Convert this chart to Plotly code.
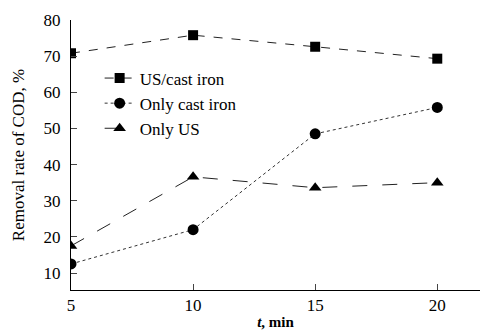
import plotly.graph_objects as go

t_min = [5, 10, 15, 20]
us_cast_iron = [70.8, 75.8, 72.6, 69.3]
only_cast_iron = [12.5, 22.0, 48.5, 55.8]
only_us = [17.5, 36.6, 33.6, 35.0]

x_ticks = [5, 10, 15, 20]
y_ticks = [10, 20, 30, 40, 50, 60, 70, 80]

font_family = "Liberation Serif"

fig = go.Figure()
fig.add_trace(go.Scatter(
    x=t_min, y=us_cast_iron, name="US/cast iron", mode="lines+markers",
    line=dict(color="#222", width=1, dash="dash"),
    marker=dict(symbol="square", size=10, color="#000"),
))
fig.add_trace(go.Scatter(
    x=t_min, y=only_cast_iron, name="Only cast iron", mode="lines+markers",
    line=dict(color="#333", width=1, dash="dot"),
    marker=dict(symbol="circle", size=11, color="#000"),
))
fig.add_trace(go.Scatter(
    x=t_min, y=only_us, name="Only US", mode="lines+markers",
    line=dict(color="#222", width=1, dash="longdash"),
    marker=dict(symbol="triangle-up", size=11, color="#000"),
))

fig.update_layout(
    width=483, height=333,
    margin=dict(l=71, r=3, t=20, b=43),
    paper_bgcolor="white", plot_bgcolor="white",
    font=dict(family=font_family, size=17, color="#000"),
    showlegend=True,
    legend=dict(x=0.07, y=0.85, xanchor="left", yanchor="top",
                bgcolor="rgba(0,0,0,0)", font=dict(size=17),
                tracegroupgap=0, itemwidth=30),
)
fig.update_xaxes(
    range=[5, 21.75], tickvals=x_ticks, ticks="inside", ticklen=6,
    showline=True, linecolor="#000", linewidth=1, showgrid=False, zeroline=False,
    title=dict(text="<b><i>t</i>, min</b>", font=dict(size=15), standoff=2),
    tickfont=dict(size=17),
)
fig.update_yaxes(
    range=[5.3, 80], tickvals=y_ticks, ticks="inside", ticklen=6,
    showline=True, linecolor="#000", linewidth=1, showgrid=False, zeroline=False,
    title=dict(text="Removal rate of COD, %", font=dict(size=17), standoff=14),
    tickfont=dict(size=17), ticklabelstandoff=6,
)

fig.write_html("out.html")
